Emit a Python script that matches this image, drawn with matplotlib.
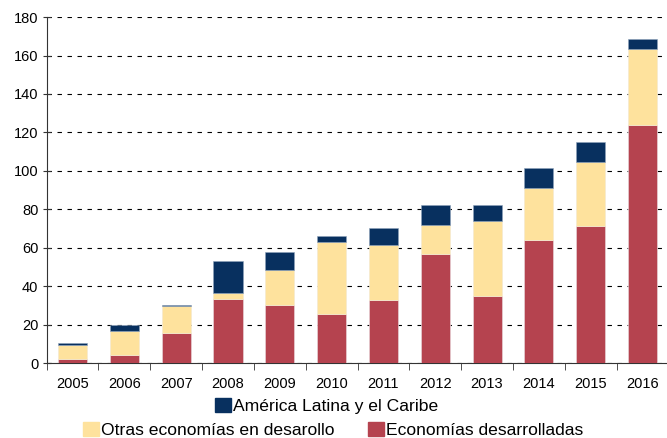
import numpy as np
import matplotlib
matplotlib.use('Agg')
import matplotlib.pyplot as plt
from matplotlib.patches import Patch

plt.rcParams['font.family'] = ['Liberation Sans', 'DejaVu Sans']

years = ['2005', '2006', '2007', '2008', '2009', '2010',
         '2011', '2012', '2013', '2014', '2015', '2016']
# stacked cumulative tops, converted to segments
desarrolladas = [1.9, 4.0, 15.8, 33.2, 30.4, 25.7, 33.0, 56.6, 34.9, 64.1, 71.2, 123.9]
otras_top = [9.6, 16.7, 29.5, 36.5, 48.5, 63.1, 61.2, 72.1, 74.0, 91.2, 104.8, 163.2]
total_top = [10.6, 19.6, 30.4, 53.2, 57.7, 65.9, 70.4, 82.2, 82.2, 101.3, 114.9, 168.5]

otras = [t - d for t, d in zip(otras_top, desarrolladas)]
america = [t - o for t, o in zip(total_top, otras_top)]

c_red = '#b5434f'
c_yel = '#fee29d'
c_navy = '#08305f'

fig = plt.figure(figsize=(6.67, 4.38), dpi=100)
ax = fig.add_axes([0.070, 0.171, 0.932, 0.790])

x = np.arange(len(years))
w = 0.56
ax.bar(x, desarrolladas, w, color=c_red, edgecolor='#e6d0d4', linewidth=0.5, zorder=3)
ax.bar(x, otras, w, bottom=desarrolladas, color=c_yel, edgecolor='#f4ead0', linewidth=0.5, zorder=3)
ax.bar(x, america, w, bottom=otras_top, color=c_navy, edgecolor='#8fa3bb', linewidth=0.4, zorder=3)

ax.set_ylim(0, 180)
ax.set_xlim(-0.5, len(years) - 0.5)
ax.set_yticks(np.arange(0, 181, 20))
ax.yaxis.grid(True, linestyle=(0, (4, 5)), color='black', linewidth=0.8, zorder=0)
ax.set_axisbelow(True)

ax.set_xticks(x)
ax.set_xticklabels(years)
ax.set_xticks(np.arange(-0.5, len(years), 1), minor=True)
ax.tick_params(axis='x', which='major', length=0, pad=10, labelsize=10.5)
ax.tick_params(axis='x', which='minor', length=5, direction='out', color='#333333')
ax.tick_params(axis='y', length=6, direction='inout', labelsize=10.5, color='#333333', pad=3)

for s in ['top', 'right']:
    ax.spines[s].set_visible(False)
ax.spines['left'].set_color('#333333')
ax.spines['bottom'].set_color('#333333')

leg_kw = dict(frameon=False, fontsize=12.6, handlelength=0.9, handleheight=0.9,
              handletextpad=0.15, borderpad=0, borderaxespad=0, loc='center left')
fig.legend(handles=[Patch(color=c_navy)], labels=['América Latina y el Caribe'],
           bbox_to_anchor=(215 / 667, 1 - 406 / 438), **leg_kw)
fig.legend(handles=[Patch(color=c_yel), Patch(color=c_red)],
           labels=['Otras economías en desarollo', 'Economías desarrolladas'],
           bbox_to_anchor=(83 / 667, 1 - 430 / 438), ncol=2, columnspacing=1.9, **leg_kw)

fig.savefig('out.png', dpi=100)
